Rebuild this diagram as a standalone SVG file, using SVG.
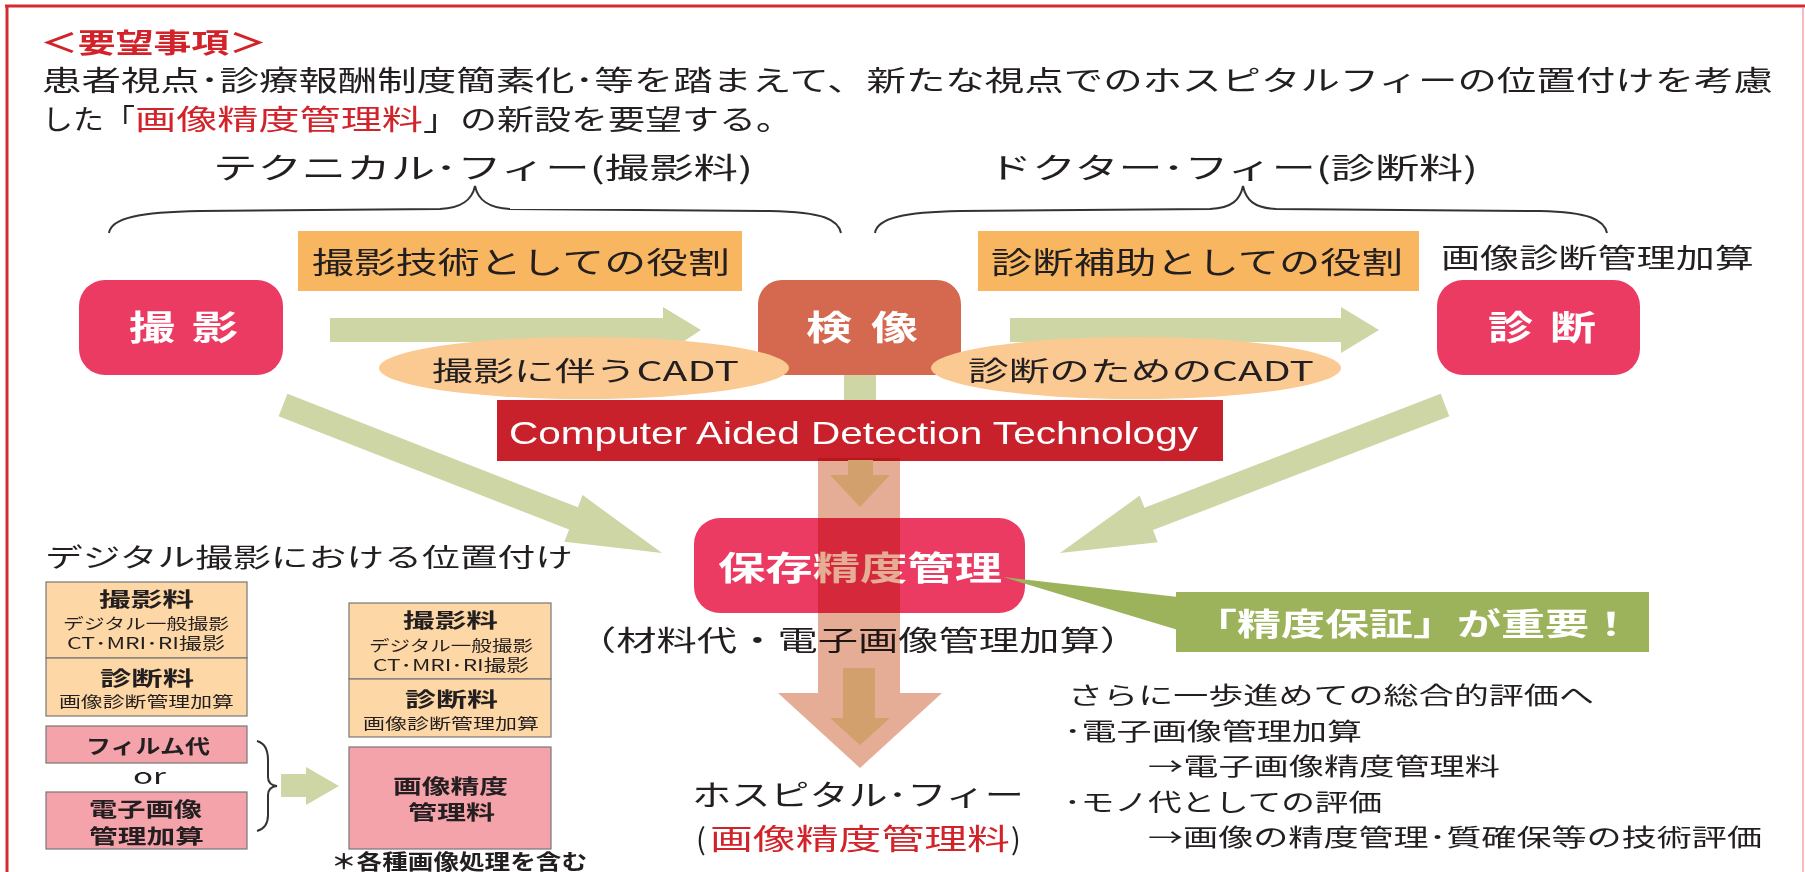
<svg xmlns="http://www.w3.org/2000/svg" width="1805" height="872" viewBox="0 0 1805 872">
<style>
.jp{font-family:"Noto Sans CJK JP","Noto Sans",sans-serif;fill:#231f20}
.b{font-weight:bold}
.w{fill:#ffffff}
.red{fill:#d2232a}
.en{font-family:"Liberation Sans",Arial,sans-serif;fill:#ffffff}
.green{fill:#cdd6a4}
.node{fill:#ec3b63}
.lbl{fill:#f8b660}
.ell{fill:#fbca93}
.brace{fill:none;stroke:#333333;stroke-width:2}
.obox{fill:#fdd7a5;stroke:#777777;stroke-width:1.2}
.pbox{fill:#f5a3ab;stroke:#777777;stroke-width:1.2}
</style>
<rect width="1805" height="872" fill="#ffffff"/>
<g id="frame">
<line x1="5" y1="6" x2="1805" y2="6" stroke="#d42a33" stroke-width="3"/>
<line x1="7" y1="5" x2="7" y2="872" stroke="#d42a33" stroke-width="3"/>
<line x1="1803" y1="8" x2="1803" y2="872" stroke="#f3a9ad" stroke-width="1.5"/>
</g>
<g id="header">
<text class="jp b" x="40" y="53" font-size="27" textLength="227" lengthAdjust="spacingAndGlyphs" style="fill:#d2232a">＜要望事項＞</text>
<text class="jp" x="42" y="91" font-size="28" textLength="1731" lengthAdjust="spacingAndGlyphs">患者視点･診療報酬制度簡素化･等を踏まえて、新たな視点でのホスピタルフィーの位置付けを考慮</text>
<text class="jp" x="42" y="130" font-size="28" textLength="93" lengthAdjust="spacingAndGlyphs">した「</text>
<text class="jp red" x="135" y="130" font-size="28" textLength="288" lengthAdjust="spacingAndGlyphs">画像精度管理料</text>
<text class="jp" x="423" y="130" font-size="28" textLength="370" lengthAdjust="spacingAndGlyphs">」の新設を要望する。</text>
</g>
<g id="technical-fee">
<text class="jp" x="213" y="179" font-size="29" textLength="540" lengthAdjust="spacingAndGlyphs">テクニカル･フィー(撮影料)</text>
<path class="brace" d="M109,233 C111,218 140,212 200,211 L440,209 C462,208 472,200 475,186 C478,200 488,208 510,209 L770,211 C825,212 838,220 841,233"/>
</g>
<g id="doctor-fee">
<text class="jp" x="988" y="179" font-size="29" textLength="490" lengthAdjust="spacingAndGlyphs">ドクター･フィー(診断料)</text>
<path class="brace" d="M875,233 C877,218 905,212 960,211 L1210,209 C1232,208 1240,200 1243,186 C1246,200 1254,208 1276,209 L1540,211 C1590,212 1604,220 1607,233"/>
</g>
<g id="role-imaging">
<rect class="lbl" x="298" y="231" width="444" height="60"/>
<text class="jp" x="312" y="273" font-size="30" textLength="418" lengthAdjust="spacingAndGlyphs">撮影技術としての役割</text>
</g>
<g id="role-diagnosis">
<rect class="lbl" x="978" y="231" width="441" height="60"/>
<text class="jp" x="991" y="273" font-size="30" textLength="412" lengthAdjust="spacingAndGlyphs">診断補助としての役割</text>
</g>
<g id="label-kasan">
<text class="jp" x="1441" y="268" font-size="27" textLength="313" lengthAdjust="spacingAndGlyphs">画像診断管理加算</text>
</g>
<g id="connectors">
<polygon class="green" points="330,318 663,318 663,307 701,330 663,355 663,342 330,342"/>
<polygon class="green" points="1010,318 1341,318 1341,307 1379,330 1341,353 1341,342 1010,342"/>
<polygon class="green" points="287.4,393.8 577.9,507.2 582.6,495.1 662,553 564.4,541.7 569.1,529.6 278.6,416.2"/>
<polygon class="green" points="1440.7,393.8 1144.4,507.7 1139.7,495.6 1060,553 1157.7,542.2 1153,530.1 1449.3,416.2"/>
<rect class="green" x="844" y="372" width="32" height="30"/>
<polygon class="green" points="281,774 306,774 306,767 339,786 306,805 306,797 281,797"/>
<path class="brace" d="M257,741 Q268,744 268,760 L268,777 Q268,785 277,786 Q268,787 268,795 L268,815 Q268,828 257,831"/>
</g>
<g id="node-satsuei">
<rect class="node" x="79" y="280" width="204" height="95" rx="26"/>
<text class="jp b w" x="129" y="340" font-size="34" textLength="46" lengthAdjust="spacingAndGlyphs">撮</text>
<text class="jp b w" x="192" y="340" font-size="34" textLength="46" lengthAdjust="spacingAndGlyphs">影</text>
</g>
<g id="node-kenzo">
<rect x="758" y="280" width="203" height="95" rx="24" fill="#d5694f"/>
<text class="jp b w" x="806" y="340" font-size="34" textLength="46" lengthAdjust="spacingAndGlyphs">検</text>
<text class="jp b w" x="871" y="340" font-size="34" textLength="47" lengthAdjust="spacingAndGlyphs">像</text>
</g>
<g id="node-shindan">
<rect class="node" x="1437" y="280" width="203" height="95" rx="26"/>
<text class="jp b w" x="1488" y="340" font-size="34" textLength="45" lengthAdjust="spacingAndGlyphs">診</text>
<text class="jp b w" x="1550" y="340" font-size="34" textLength="46" lengthAdjust="spacingAndGlyphs">断</text>
</g>
<g id="cadt-imaging">
<ellipse class="ell" cx="584" cy="368" rx="205" ry="31"/>
<text class="jp" x="432" y="381" font-size="27" textLength="307" lengthAdjust="spacingAndGlyphs">撮影に伴うCADT</text>
</g>
<g id="cadt-diagnosis">
<ellipse class="ell" cx="1136" cy="368" rx="205" ry="31"/>
<text class="jp" x="968" y="381" font-size="27" textLength="346" lengthAdjust="spacingAndGlyphs">診断のためのCADT</text>
</g>
<g id="cad-technology">
<rect x="497" y="400" width="726" height="61" fill="#c9212b"/>
<text class="en" x="509" y="444" font-size="32" textLength="689" lengthAdjust="spacingAndGlyphs">Computer Aided Detection Technology</text>
</g>
<g id="node-hozon">
<rect class="node" x="694" y="518" width="331" height="95" rx="26"/>
<text class="jp b w" x="718" y="580" font-size="33" textLength="284" lengthAdjust="spacingAndGlyphs">保存精度管理</text>
</g>
<g id="note-seido">
<polygon points="1003,577 1178,597 1178,630" fill="#9db35b"/>
<rect x="1176" y="592" width="473" height="60" fill="#9db35b"/>
<text class="jp b w" x="1193" y="635" font-size="31" textLength="440" lengthAdjust="spacingAndGlyphs">「精度保証」が重要！</text>
</g>
<g id="label-zairyo">
<text class="jp" x="576" y="651" font-size="28" textLength="564" lengthAdjust="spacingAndGlyphs">（材料代・電子画像管理加算）</text>
</g>
<g id="flow-down">
<polygon points="818,458 900,458 900,693 942,693 860,768 778,693 818,693" fill="#e6ad96" style="mix-blend-mode:multiply"/>
<polygon points="848,460 873,460 873,475 890,475 860,507 830,475 848,475" fill="#d2a06c"/>
<polygon points="843,668 875,668 875,718 890,718 860,745 830,718 843,718" fill="#d2a06c"/>
</g>
<g id="hospital-fee">
<text class="jp" x="692" y="806" font-size="29" textLength="332" lengthAdjust="spacingAndGlyphs">ホスピタル･フィー</text>
<text class="jp" x="696" y="850" font-size="29">(</text>
<text class="jp red" x="710" y="850" font-size="29" textLength="300" lengthAdjust="spacingAndGlyphs">画像精度管理料</text>
<text class="jp" x="1011" y="850" font-size="29">)</text>
</g>
<g id="further-eval">
<text class="jp" x="1068" y="704" font-size="24" textLength="526" lengthAdjust="spacingAndGlyphs">さらに一歩進めての総合的評価へ</text>
<text class="jp" x="1064" y="740" font-size="24" textLength="298" lengthAdjust="spacingAndGlyphs">･電子画像管理加算</text>
<text class="jp" x="1148" y="775" font-size="24" textLength="352" lengthAdjust="spacingAndGlyphs">→電子画像精度管理料</text>
<text class="jp" x="1064" y="811" font-size="24" textLength="318" lengthAdjust="spacingAndGlyphs">･モノ代としての評価</text>
<text class="jp" x="1148" y="846" font-size="24" textLength="614" lengthAdjust="spacingAndGlyphs">→画像の精度管理･質確保等の技術評価</text>
</g>
<g id="digital-title">
<text class="jp" x="45" y="567" font-size="26" textLength="528" lengthAdjust="spacingAndGlyphs">デジタル撮影における位置付け</text>
</g>
<g id="current-fees">
<rect class="obox" x="46" y="582" width="201" height="76"/>
<rect class="obox" x="46" y="658" width="201" height="58"/>
<text class="jp b" x="99" y="607" font-size="20" textLength="95" lengthAdjust="spacingAndGlyphs">撮影料</text>
<text class="jp" x="63" y="629" font-size="15" textLength="166" lengthAdjust="spacingAndGlyphs">デジタル一般撮影</text>
<text class="jp" x="67" y="649" font-size="16" textLength="158" lengthAdjust="spacingAndGlyphs">CT･MRI･RI撮影</text>
<text class="jp b" x="100" y="686" font-size="20" textLength="94" lengthAdjust="spacingAndGlyphs">診断料</text>
<text class="jp" x="59" y="707" font-size="15" textLength="175" lengthAdjust="spacingAndGlyphs">画像診断管理加算</text>
</g>
<g id="film-fee">
<rect class="pbox" x="46" y="726" width="201" height="37"/>
<text class="jp b" x="86" y="754" font-size="20" textLength="124" lengthAdjust="spacingAndGlyphs">フィルム代</text>
<text class="jp" x="133" y="784" font-size="21" textLength="33" lengthAdjust="spacingAndGlyphs">or</text>
</g>
<g id="ekasan-fee">
<rect class="pbox" x="46" y="792" width="201" height="57"/>
<text class="jp b" x="89" y="817" font-size="20" textLength="113" lengthAdjust="spacingAndGlyphs">電子画像</text>
<text class="jp b" x="89" y="844" font-size="20" textLength="115" lengthAdjust="spacingAndGlyphs">管理加算</text>
</g>
<g id="new-fees">
<rect class="obox" x="349" y="603" width="202" height="76"/>
<rect class="obox" x="349" y="679" width="202" height="58"/>
<text class="jp b" x="403" y="628" font-size="20" textLength="95" lengthAdjust="spacingAndGlyphs">撮影料</text>
<text class="jp" x="369" y="651" font-size="15" textLength="164" lengthAdjust="spacingAndGlyphs">デジタル一般撮影</text>
<text class="jp" x="373" y="671" font-size="16" textLength="156" lengthAdjust="spacingAndGlyphs">CT･MRI･RI撮影</text>
<text class="jp b" x="405" y="707" font-size="20" textLength="93" lengthAdjust="spacingAndGlyphs">診断料</text>
<text class="jp" x="363" y="729" font-size="15" textLength="176" lengthAdjust="spacingAndGlyphs">画像診断管理加算</text>
</g>
<g id="new-seido-fee">
<rect class="pbox" x="349" y="747" width="202" height="102"/>
<text class="jp b" x="393" y="794" font-size="20" textLength="115" lengthAdjust="spacingAndGlyphs">画像精度</text>
<text class="jp b" x="408" y="820" font-size="20" textLength="87" lengthAdjust="spacingAndGlyphs">管理料</text>
<text class="jp b" x="331" y="869" font-size="21" textLength="256" lengthAdjust="spacingAndGlyphs">＊各種画像処理を含む</text>
</g>
</svg>
